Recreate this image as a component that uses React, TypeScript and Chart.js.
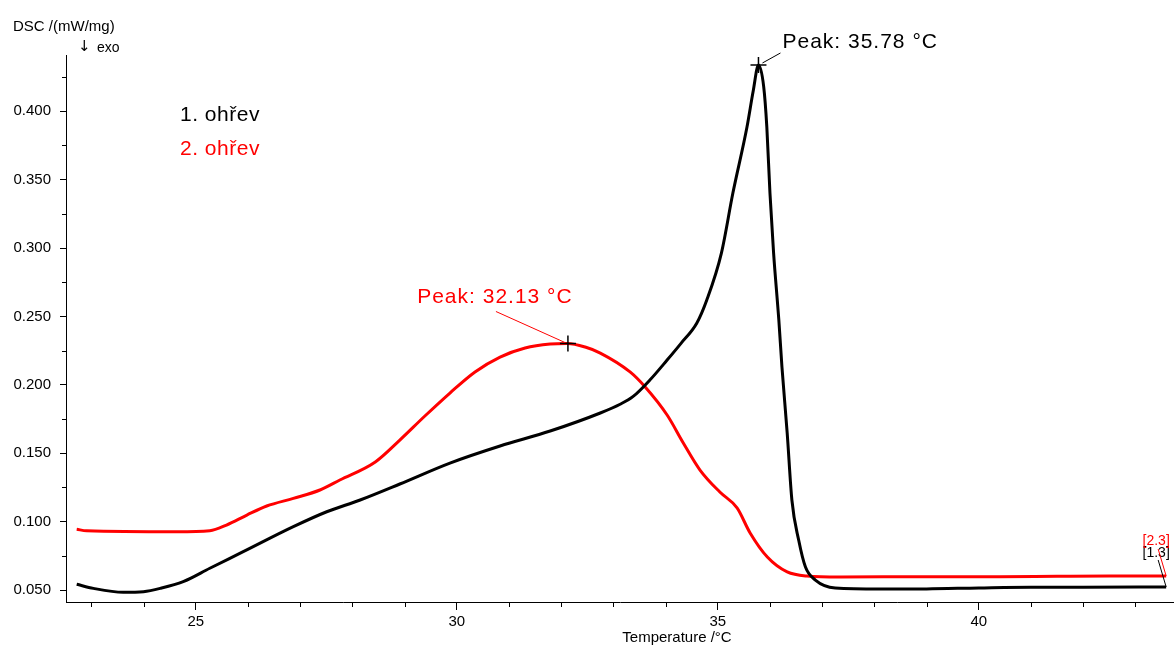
import React, { useEffect, useRef } from "react";
import { Chart, registerables } from "chart.js";

Chart.register(...registerables);

// ---- data ----
const seriesNames = ["1. ohřev", "2. ohřev"];
const seriesColors = ["#000000", "#ff0000"];

const heat1Temp = [22.72, 23.04, 23.61, 24.0, 24.32, 24.76, 25.27, 25.91, 26.87, 27.51, 28.15, 28.91, 29.87, 30.83, 31.79, 32.75, 33.13, 33.38, 33.7, 34.03, 34.3, 34.6, 34.79, 35.07, 35.29, 35.56, 35.68, 35.78, 35.88, 35.94, 36.0, 36.07, 36.17, 36.23, 36.33, 36.42, 36.55, 36.68, 36.87, 37.25, 38.11, 39.0, 40.0, 41.0, 42.0, 43.59];
const heat1Dsc = [0.0542, 0.0512, 0.0483, 0.0488, 0.0512, 0.0561, 0.0659, 0.078, 0.0963, 0.1072, 0.1158, 0.1275, 0.1428, 0.1553, 0.1662, 0.1794, 0.1858, 0.1915, 0.2035, 0.2181, 0.2305, 0.2452, 0.262, 0.2963, 0.3402, 0.3885, 0.415, 0.4338, 0.418, 0.3885, 0.3402, 0.2963, 0.2474, 0.213, 0.1648, 0.1158, 0.0865, 0.0668, 0.0573, 0.0515, 0.0507, 0.0508, 0.0515, 0.052, 0.052, 0.0522];

const heat2Temp = [22.72, 22.91, 24.64, 25.27, 25.59, 25.98, 26.36, 26.87, 27.38, 27.76, 28.44, 28.91, 29.39, 29.87, 30.35, 30.83, 31.31, 31.79, 32.12, 32.46, 32.75, 33.32, 33.61, 34.03, 34.34, 34.66, 35.04, 35.37, 35.62, 35.95, 36.33, 36.71, 37.34, 39.0, 40.4, 41.5, 42.5, 43.59];
const heat2Dsc = [0.0944, 0.0933, 0.0926, 0.0933, 0.0975, 0.1048, 0.1114, 0.117, 0.1231, 0.1304, 0.1436, 0.1596, 0.1772, 0.194, 0.2094, 0.2203, 0.2269, 0.2298, 0.2302, 0.2276, 0.2232, 0.2094, 0.1984, 0.1779, 0.1575, 0.1377, 0.1216, 0.11, 0.0917, 0.0741, 0.0632, 0.0602, 0.0595, 0.0597, 0.0597, 0.06, 0.0602, 0.0602];

const xMajorTicks = [25, 30, 35, 40];
const xMinorTicks = [23, 24, 26, 27, 28, 29, 31, 32, 33, 34, 36, 37, 38, 39, 41, 42, 43];
const yMajorTicks = [0.05, 0.1, 0.15, 0.2, 0.25, 0.3, 0.35, 0.4];
const yMinorTicks = [0.075, 0.125, 0.175, 0.225, 0.275, 0.325, 0.375, 0.425];

const peakTemps = [35.78, 32.13];
const peakDsc = [0.4338, 0.2302];
const peakLabels = ["Peak: 35.78 °C", "Peak: 32.13 °C"];
const endLabels = ["[1.3]", "[2.3]"];

const xTitle = "Temperature /°C";
const yTitle = "DSC /(mW/mg)";
const yArrow = "↓";
const yTitle2 = "exo";

const FONT = "'Liberation Sans', Arial, sans-serif";

const overlayPlugin = {
  id: "dscOverlay",
  afterDatasetsDraw(chart: any) {
    const { ctx, chartArea, scales } = chart;
    const xs = scales.x;
    const ys = scales.y;
    ctx.save();
    // minor ticks
    ctx.strokeStyle = "#000";
    ctx.lineWidth = 1;
    ctx.beginPath();
    xMinorTicks.forEach((t) => {
      const px = Math.round(xs.getPixelForValue(t)) + 0.5;
      ctx.moveTo(px, chartArea.bottom);
      ctx.lineTo(px, chartArea.bottom + 5);
    });
    yMinorTicks.forEach((v) => {
      const py = Math.round(ys.getPixelForValue(v)) + 0.5;
      ctx.moveTo(chartArea.left - 4, py);
      ctx.lineTo(chartArea.left, py);
    });
    ctx.stroke();

    // peaks
    peakTemps.forEach((t, i) => {
      const px = xs.getPixelForValue(t);
      const py = ys.getPixelForValue(peakDsc[i]);
      ctx.strokeStyle = "#000";
      ctx.lineWidth = 1.5;
      ctx.beginPath();
      ctx.moveTo(px - 8, py);
      ctx.lineTo(px + 8, py);
      ctx.moveTo(px, py - 8);
      ctx.lineTo(px, py + 8);
      ctx.stroke();
      ctx.lineWidth = 1;
      ctx.strokeStyle = seriesColors[i];
      ctx.fillStyle = seriesColors[i];
      ctx.font = `21px ${FONT}`;
      (ctx as any).letterSpacing = "1px";
      ctx.textBaseline = "middle";
      ctx.beginPath();
      if (i === 0) {
        ctx.moveTo(px + 4, py - 2);
        ctx.lineTo(px + 22, py - 12);
        ctx.stroke();
        ctx.textAlign = "left";
        ctx.fillText(peakLabels[i], px + 24, py - 23);
      } else {
        ctx.moveTo(px - 3, py - 1);
        ctx.lineTo(px - 72, py - 32);
        ctx.stroke();
        ctx.textAlign = "center";
        ctx.fillText(peakLabels[i], px - 73, py - 46);
      }
      (ctx as any).letterSpacing = "0px";
    });

    // end labels
    const ends = [
      { t: heat1Temp[heat1Temp.length - 1], v: heat1Dsc[heat1Dsc.length - 1] },
      { t: heat2Temp[heat2Temp.length - 1], v: heat2Dsc[heat2Dsc.length - 1] },
    ];
    ctx.font = `14px ${FONT}`;
    ctx.textAlign = "center";
    ctx.textBaseline = "middle";
    ends.forEach((e, i) => {
      const px = xs.getPixelForValue(e.t);
      const py = ys.getPixelForValue(e.v);
      ctx.strokeStyle = seriesColors[i];
      ctx.fillStyle = seriesColors[i];
      ctx.lineWidth = 1;
      ctx.beginPath();
      ctx.moveTo(px, py);
      ctx.lineTo(px - 8, py - 27);
      ctx.stroke();
      ctx.fillText(endLabels[i], px - 10, py - (i === 0 ? 34 : 35));
    });

    // legend texts
    ctx.font = `21px ${FONT}`;
    (ctx as any).letterSpacing = "0.5px";
    ctx.textAlign = "left";
    seriesNames.forEach((n, i) => {
      ctx.fillStyle = seriesColors[i];
      ctx.fillText(n, 180, 115 + i * 34);
    });
    (ctx as any).letterSpacing = "0px";

    // axis titles
    ctx.fillStyle = "#000";
    ctx.font = `15px ${FONT}`;
    ctx.textAlign = "left";
    ctx.fillText(yTitle, 13, 27);
    ctx.font = `15px 'DejaVu Sans', sans-serif`;
    ctx.fillText(yArrow, 78, 47);
    ctx.font = `14px ${FONT}`;
    ctx.fillText(yTitle2, 97, 48);
    ctx.font = `15px ${FONT}`;
    ctx.textAlign = "center";
    ctx.fillText(xTitle, 677, 638);
    ctx.restore();
  },
};

export default function App() {
  const ref = useRef<HTMLCanvasElement | null>(null);
  useEffect(() => {
    if (!ref.current) return;
    const chart = new Chart(ref.current, {
      type: "line",
      data: {
        datasets: [
          {
            label: seriesNames[0],
            data: heat1Temp.map((t, i) => ({ x: t, y: heat1Dsc[i] })),
            borderColor: seriesColors[0],
            borderWidth: 3,
            pointRadius: 0,
            cubicInterpolationMode: "monotone",
            fill: false,
          },
          {
            label: seriesNames[1],
            data: heat2Temp.map((t, i) => ({ x: t, y: heat2Dsc[i] })),
            borderColor: seriesColors[1],
            borderWidth: 3,
            pointRadius: 0,
            cubicInterpolationMode: "monotone",
            fill: false,
          },
        ],
      },
      options: {
        animation: false,
        responsive: false,
        devicePixelRatio: 1,
        layout: { padding: { top: 55, left: 0, right: 0, bottom: 0 } },
        plugins: { legend: { display: false }, tooltip: { enabled: false } },
        scales: {
          x: {
            type: "linear",
            min: 22.515,
            max: 43.74,
            afterBuildTicks: (s: any) => {
              s.ticks = xMajorTicks.map((v) => ({ value: v }));
            },
            afterFit: (s: any) => {
              s.height = 45;
              s.paddingLeft = 0;
              s.paddingRight = 0;
            },
            ticks: {
              callback: (v: any) => String(v),
              font: { size: 15, family: FONT },
              color: "#000",
              padding: 3,
              maxRotation: 0,
              autoSkip: false,
            },
            grid: { display: true, drawOnChartArea: false, drawTicks: true, tickLength: 8, color: "#000", tickColor: "#000" },
            border: { display: true, color: "#000", width: 1 },
          },
          y: {
            type: "linear",
            min: 0.04123,
            max: 0.4411,
            afterBuildTicks: (s: any) => {
              s.ticks = yMajorTicks.map((v) => ({ value: v }));
            },
            afterFit: (s: any) => {
              s.width = 66;
              s.paddingTop = 0;
              s.paddingBottom = 0;
            },
            ticks: {
              callback: (v: any) => Number(v).toFixed(3),
              font: { size: 15, family: FONT },
              color: "#000",
              padding: 9,
              autoSkip: false,
            },
            grid: { display: true, drawOnChartArea: false, drawTicks: true, tickLength: 6, color: "#000", tickColor: "#000" },
            border: { display: true, color: "#000", width: 1 },
          },
        },
      },
      plugins: [overlayPlugin],
    } as any);
    return () => chart.destroy();
  }, []);
  return (
    <div style={{ position: "absolute", left: 0, top: 0, width: 1174, height: 647, background: "#fff" }}>
      <canvas ref={ref} width={1174} height={647} style={{ display: "block" }} />
    </div>
  );
}
